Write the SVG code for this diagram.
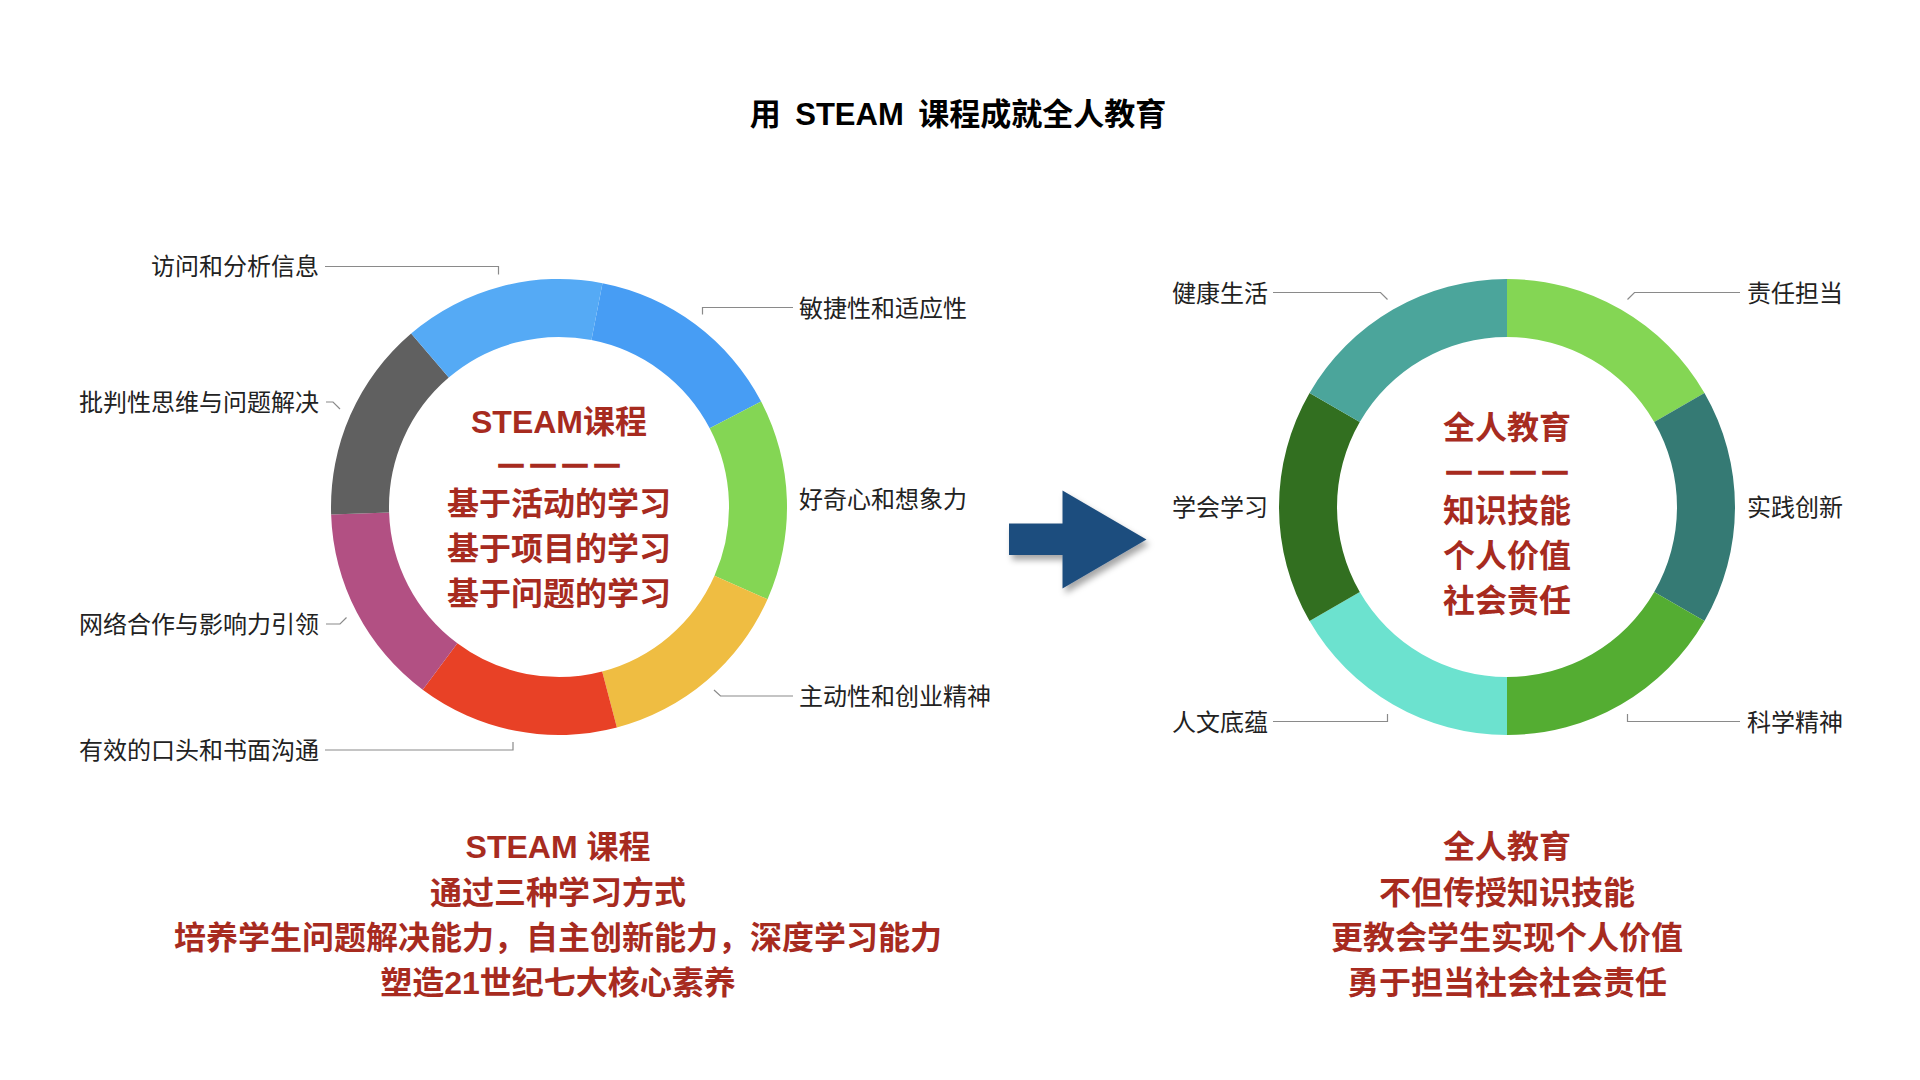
<svg xmlns="http://www.w3.org/2000/svg" width="1920" height="1080" viewBox="0 0 1920 1080">
<style>
text{font-family:'Liberation Sans','Noto Sans CJK SC',sans-serif}
.title{font-size:31px;font-weight:bold;fill:#000;text-anchor:middle;word-spacing:6px}
.lbl{font-size:24px;fill:#222}
.l{text-anchor:end}
.ctr{font-size:32px;font-weight:bold;fill:#A72B1F;text-anchor:middle}
.dash{font-size:24px;font-weight:bold;fill:#A72B1F;stroke:#A72B1F;stroke-width:1.6px;text-anchor:middle;letter-spacing:8px}
.conn{fill:none;stroke:#8a8a8a;stroke-width:1.2}
</style>
<defs>
<filter id="sh" x="-20%" y="-20%" width="150%" height="150%">
<feDropShadow dx="3" dy="5" stdDeviation="3" flood-color="#000" flood-opacity="0.35"/>
</filter>
</defs>
<rect width="1920" height="1080" fill="#fff"/>
<g id="title"><text class="title" x="958" y="125">用 STEAM 课程成就全人教育</text></g>

<g id="left-donut">
<path id="seg-blue" fill="#479DF4" d="M602.50,283.19 A228,228 0 0 1 761.12,401.48 L709.70,428.32 A170,170 0 0 0 591.44,340.12 Z"/>
<path id="seg-green" fill="#84D654" d="M761.12,401.48 A228,228 0 0 1 767.52,599.22 L714.48,575.76 A170,170 0 0 0 709.70,428.32 Z"/>
<path id="seg-yellow" fill="#EFBD42" d="M767.52,599.22 A228,228 0 0 1 616.91,727.52 L602.18,671.43 A170,170 0 0 0 714.48,575.76 Z"/>
<path id="seg-red" fill="#E84126" d="M616.91,727.52 A228,228 0 0 1 422.69,689.77 L457.37,643.28 A170,170 0 0 0 602.18,671.43 Z"/>
<path id="seg-purple" fill="#B25083" d="M422.69,689.77 A228,228 0 0 1 331.12,514.39 L389.09,512.51 A170,170 0 0 0 457.37,643.28 Z"/>
<path id="seg-gray" fill="#606060" d="M331.12,514.39 A228,228 0 0 1 411.14,333.44 L448.75,377.59 A170,170 0 0 0 389.09,512.51 Z"/>
<path id="seg-lightblue" fill="#55AAF5" d="M411.14,333.44 A228,228 0 0 1 602.50,283.19 L591.44,340.12 A170,170 0 0 0 448.75,377.59 Z"/>
</g>
<g id="left-center">
<text class="ctr" x="559" y="433">STEAM课程</text>
<text class="dash" x="563" y="472">————</text>
<text class="ctr" x="559" y="515">基于活动的学习</text>
<text class="ctr" x="559" y="560">基于项目的学习</text>
<text class="ctr" x="559" y="605">基于问题的学习</text>
</g>

<g id="right-donut">
<path id="seg-r1" fill="#84D654" d="M1507,279 A228,228 0 0 1 1704.45,393 L1654.22,422 A170,170 0 0 0 1507,337 Z"/>
<path id="seg-r2" fill="#357A74" d="M1704.45,393 A228,228 0 0 1 1704.45,621 L1654.22,592 A170,170 0 0 0 1654.22,422 Z"/>
<path id="seg-r3" fill="#54AD32" d="M1704.45,621 A228,228 0 0 1 1507,735 L1507,677 A170,170 0 0 0 1654.22,592 Z"/>
<path id="seg-r4" fill="#6CE2CF" d="M1507,735 A228,228 0 0 1 1309.55,621 L1359.78,592 A170,170 0 0 0 1507,677 Z"/>
<path id="seg-r5" fill="#326F20" d="M1309.55,621 A228,228 0 0 1 1309.55,393 L1359.78,422 A170,170 0 0 0 1359.78,592 Z"/>
<path id="seg-r6" fill="#4BA59B" d="M1309.55,393 A228,228 0 0 1 1507,279 L1507,337 A170,170 0 0 0 1359.78,422 Z"/>
</g>
<g id="right-center">
<text class="ctr" x="1507" y="439">全人教育</text>
<text class="dash" x="1511" y="479">————</text>
<text class="ctr" x="1507" y="522">知识技能</text>
<text class="ctr" x="1507" y="567">个人价值</text>
<text class="ctr" x="1507" y="612">社会责任</text>
</g>

<g id="connectors">
<path class="conn" d="M325,266.5 H498.5 V274.5"/>
<path class="conn" d="M326,402 H333 L340,409"/>
<path class="conn" d="M326,624 H340 L346.5,617.5"/>
<path class="conn" d="M325,750 H513 V742"/>
<path class="conn" d="M793,307.5 H702.5 V314.5"/>
<path class="conn" d="M793,696 H720.5 L714,690"/>
<path class="conn" d="M1273,292.5 H1380.5 L1387.5,299.5"/>
<path class="conn" d="M1273,721.5 H1387.5 V714"/>
<path class="conn" d="M1740,292.5 H1634.5 L1627.5,299.5"/>
<path class="conn" d="M1740,721.5 H1627.5 V714"/>
</g>

<g id="label-access"><text class="lbl l" x="319" y="275">访问和分析信息</text></g>
<g id="label-critical"><text class="lbl l" x="319" y="411">批判性思维与问题解决</text></g>
<g id="label-network"><text class="lbl l" x="319" y="633">网络合作与影响力引领</text></g>
<g id="label-comm"><text class="lbl l" x="319" y="759">有效的口头和书面沟通</text></g>
<g id="label-agile"><text class="lbl" x="799" y="316.5">敏捷性和适应性</text></g>
<g id="label-curious"><text class="lbl" x="799" y="508">好奇心和想象力</text></g>
<g id="label-initiative"><text class="lbl" x="799" y="705">主动性和创业精神</text></g>

<g id="label-health"><text class="lbl l" x="1268" y="301.5">健康生活</text></g>
<g id="label-learn"><text class="lbl l" x="1268" y="515.5">学会学习</text></g>
<g id="label-human"><text class="lbl l" x="1268" y="730.5">人文底蕴</text></g>
<g id="label-resp"><text class="lbl" x="1747" y="301.5">责任担当</text></g>
<g id="label-practice"><text class="lbl" x="1747" y="515.5">实践创新</text></g>
<g id="label-science"><text class="lbl" x="1747" y="730.5">科学精神</text></g>

<g id="arrow"><path fill="#1F4E7E" filter="url(#sh)" d="M1009,523.5 H1062.5 V490.5 L1146.5,539.5 L1062.5,588.5 V555 H1009 Z"/></g>

<g id="bottom-left">
<text class="ctr" x="558" y="858">STEAM 课程</text>
<text class="ctr" x="558" y="903.5">通过三种学习方式</text>
<text class="ctr" x="558" y="949">培养学生问题解决能力，自主创新能力，深度学习能力</text>
<text class="ctr" x="558" y="994">塑造21世纪七大核心素养</text>
</g>
<g id="bottom-right">
<text class="ctr" x="1507" y="858">全人教育</text>
<text class="ctr" x="1507" y="903.5">不但传授知识技能</text>
<text class="ctr" x="1507" y="949">更教会学生实现个人价值</text>
<text class="ctr" x="1507" y="994">勇于担当社会社会责任</text>
</g>
</svg>
